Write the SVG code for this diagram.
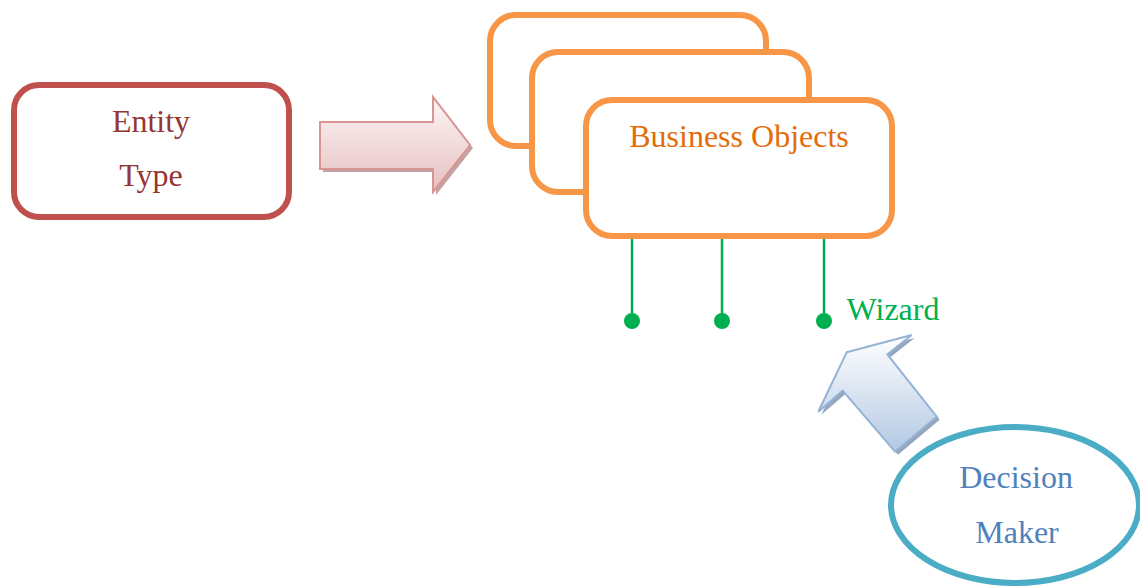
<svg xmlns="http://www.w3.org/2000/svg" width="1140" height="586" viewBox="0 0 1140 586">
<defs>
<linearGradient id="gPink" x1="0" y1="0" x2="0" y2="1">
<stop offset="0" stop-color="#FDF6F6"/>
<stop offset="1" stop-color="#E6BFC0"/>
</linearGradient>
<linearGradient id="gBlue" x1="0" y1="0" x2="0" y2="1">
<stop offset="0" stop-color="#FFFFFF"/>
<stop offset="1" stop-color="#B3C8E3"/>
</linearGradient>
<style>
.txt{font-family:"Liberation Serif","Times New Roman",serif;font-size:32px;text-anchor:middle}
.obj{fill:#FFFFFF;stroke:#F79646;stroke-width:6}
.pin{stroke:#00B050;stroke-width:2.5}
.dot{fill:#00B050}
</style>
</defs>
<rect width="1140" height="586" fill="#FFFFFF"/>
<g id="entity-type">
<rect x="14" y="85" width="275" height="132" rx="25" fill="#FFFFFF" stroke="#C0504D" stroke-width="6"/>
<text class="txt" x="151" y="132" fill="#943634">Entity</text>
<text class="txt" x="151" y="186" fill="#943634">Type</text>
</g>
<g id="pink-arrow">
<polygon points="323,125 436,125 436,100 473,148 436,195 436,172 323,172" fill="#B58A8B" opacity="0.8"/>
<polygon points="320,122 433,122 433,97 470,145 433,192 433,169 320,169" fill="url(#gPink)" stroke="#D99594" stroke-width="2"/>
</g>
<g id="business-objects">
<rect class="obj" x="490" y="15" width="276" height="131" rx="26"/>
<rect class="obj" x="532" y="52" width="277" height="140" rx="26"/>
<rect class="obj" x="586" y="100" width="306" height="136" rx="26"/>
<text class="txt" x="739" y="147" fill="#E36C09">Business Objects</text>
</g>
<g id="connectors">
<line class="pin" x1="632" y1="239" x2="632" y2="320"/>
<line class="pin" x1="722" y1="239" x2="722" y2="320"/>
<line class="pin" x1="824" y1="239" x2="824" y2="320"/>
<circle class="dot" cx="632" cy="321" r="8"/>
<circle class="dot" cx="722" cy="321" r="8"/>
<circle class="dot" cx="824" cy="321" r="8"/>
</g>
<g id="wizard">
<text class="txt" x="893" y="320" fill="#00B050">Wizard</text>
</g>
<g id="blue-arrow">
<polygon points="849.7,355.3 914.7,338 890.3,357.3 939.7,419.7 898,454.7 845.7,393.7 821.3,414.7" fill="#8497B0" opacity="0.85"/>
<polygon points="846.7,352.3 911.7,335 887.3,354.3 936.7,416.7 895,451.7 842.7,390.7 818.3,411.7" fill="url(#gBlue)" stroke="#95B3D7" stroke-width="2"/>
</g>
<g id="decision-maker">
<ellipse cx="1015" cy="505" rx="124" ry="78" fill="#FFFFFF" stroke="#4BACC6" stroke-width="6"/>
<text class="txt" x="1016" y="488" fill="#4F81BD">Decision</text>
<text class="txt" x="1017" y="543" fill="#4F81BD">Maker</text>
</g>
</svg>
